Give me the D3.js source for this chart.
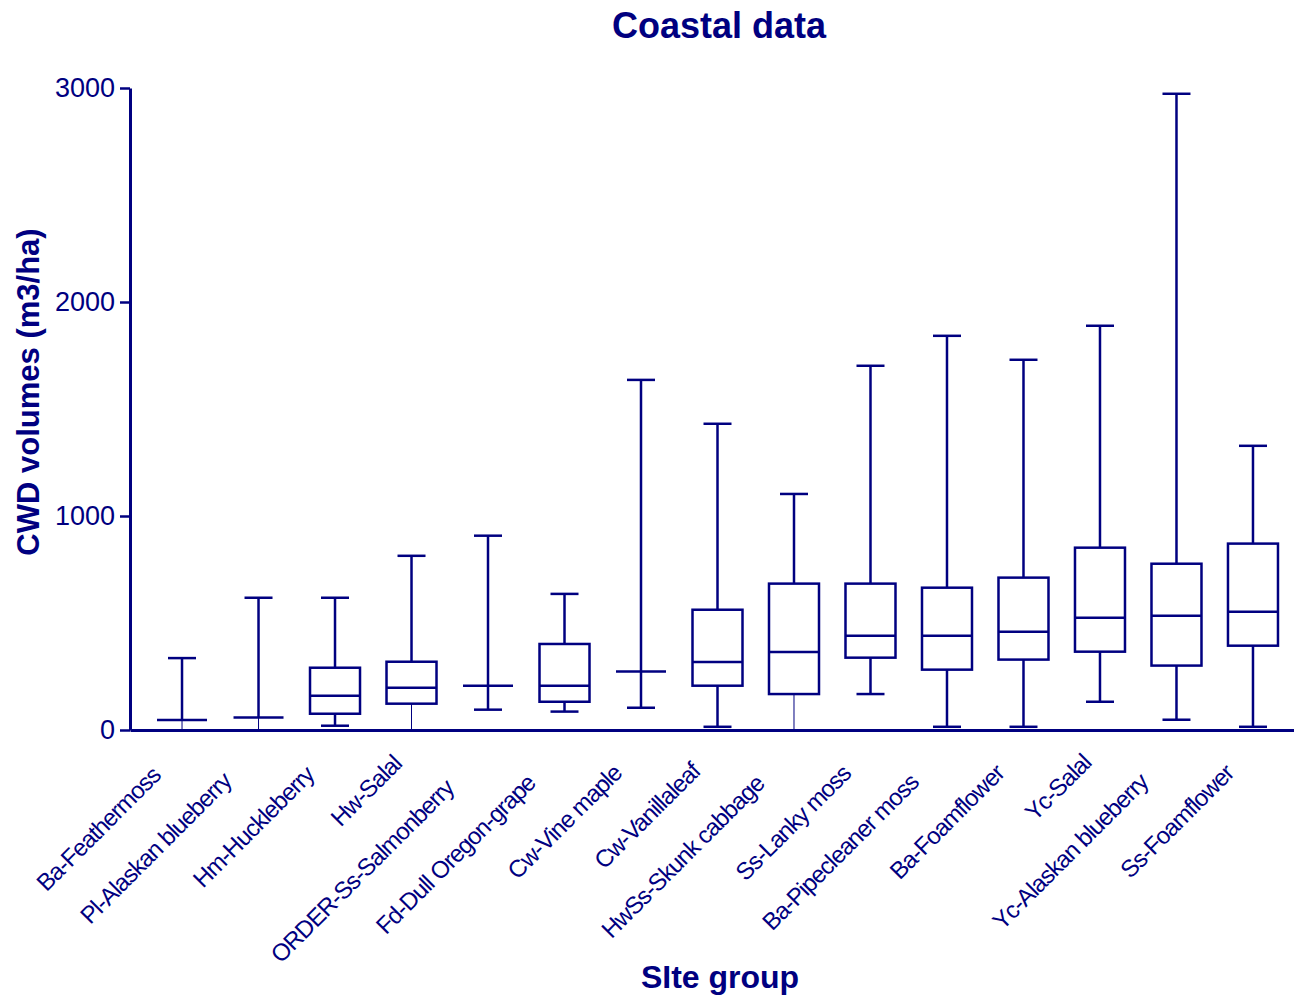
<!DOCTYPE html>
<html>
<head>
<meta charset="utf-8">
<script src="https://cdn.jsdelivr.net/npm/d3@7"></script>
<style>
  html, body { margin: 0; padding: 0; background: #fff; }
  svg text { font-family: "Liberation Sans", Arial, sans-serif; fill: #000080; }
</style>
</head>
<body>
<svg id="chart" width="1294" height="997"></svg>
<script>
// Site groups and their box-plot summaries (CWD volume, m3/ha)
const siteGroups = [
  "Ba-Feathermoss", "Pl-Alaskan blueberry", "Hm-Huckleberry", "Hw-Salal",
  "ORDER-Ss-Salmonberry", "Fd-Dull Oregon-grape", "Cw-Vine maple", "Cw-Vanillaleaf",
  "HwSs-Skunk cabbage", "Ss-Lanky moss", "Ba-Pipecleaner moss", "Ba-Foamflower",
  "Yc-Salal", "Yc-Alaskan blueberry", "Ss-Foamflower"
];
const whiskerLow  = [0,   0,   20,  0,   95,  86,  104,  15,   0,    168,  15,   15,   132,  48,   15];
const quartile1   = [47,  58,  76,  123, 207, 132, 273,  207,  168,  338,  282,  329,  366,  301,  394];
const medians     = [47,  58,  160, 198, 207, 207, 273,  318,  364,  441,  441,  459,  525,  534,  553];
const quartile3   = [47,  58,  291, 319, 207, 402, 273,  562,  684,  684,  665,  712,  852,  777,  871];
const whiskerHigh = [336, 618, 618, 814, 908, 636, 1636, 1431, 1103, 1702, 1842, 1730, 1889, 2973, 1328];
const yTicks = [0, 1000, 2000, 3000];

const ink = "#000080";
const W = 1294, H = 997;
const svg = d3.select("#chart");
svg.append("rect").attr("width", W).attr("height", H).attr("fill", "#fff");

const x = d3.scalePoint().domain(siteGroups).range([130, 1305]).padding(0.68);
const y = d3.scaleLinear().domain([0, 3000]).range([730, 88]);

const rows = siteGroups.map((g, i) => ({
  g, lo: whiskerLow[i], q1: quartile1[i], med: medians[i], q3: quartile3[i], hi: whiskerHigh[i]
}));

const boxW = 50, capW = 28, lw = 2.5;
const plot = svg.append("g").attr("class", "boxes");

rows.forEach(d => {
  const cx = x(d.g);
  const g = plot.append("g");
  const seg = (x1, y1, x2, y2, w) => g.append("line")
    .attr("x1", x1).attr("y1", y1).attr("x2", x2).attr("y2", y2)
    .attr("stroke", ink).attr("stroke-width", w);

  // upper whisker and cap
  seg(cx, y(d.q3), cx, y(d.hi), lw);
  seg(cx - capW / 2, y(d.hi), cx + capW / 2, y(d.hi), lw);

  // lower whisker; one that runs down to the baseline is drawn hairline with no cap
  const onAxis = d.lo === 0;
  seg(cx, y(d.q1), cx, y(d.lo), onAxis ? 1 : lw);
  if (!onAxis) seg(cx - capW / 2, y(d.lo), cx + capW / 2, y(d.lo), lw);

  // box and median
  g.append("rect")
    .attr("x", cx - boxW / 2).attr("y", y(d.q3))
    .attr("width", boxW).attr("height", Math.max(0, y(d.q1) - y(d.q3)))
    .attr("fill", "none").attr("stroke", ink).attr("stroke-width", lw);
  seg(cx - boxW / 2, y(d.med), cx + boxW / 2, y(d.med), lw);
});

// Y axis
const yAxis = svg.append("g")
  .attr("transform", "translate(130,0)")
  .call(d3.axisLeft(y).tickValues(yTicks).tickFormat(d3.format("d"))
    .tickSize(10).tickSizeOuter(0).tickPadding(5));
yAxis.select(".domain").attr("stroke", ink).attr("stroke-width", 3);
yAxis.selectAll(".tick line").attr("stroke", ink).attr("stroke-width", 2.5);
yAxis.selectAll(".tick text")
  .style("font-family", '"Liberation Sans", Arial, sans-serif')
  .style("font-size", "27px").attr("fill", ink);

// X axis baseline
const xAxis = svg.append("g")
  .attr("transform", `translate(0,${y(0)})`)
  .call(d3.axisBottom(x).tickSize(0).tickFormat(""));
xAxis.select(".domain").attr("stroke", ink).attr("stroke-width", 3);

// Rotated category labels
const labels = svg.append("g").attr("class", "xlabels");
siteGroups.forEach(name => {
  const t = labels.append("text")
    .attr("text-anchor", "end")
    .style("font-size", "24px")
    .style("letter-spacing", "-1px")
    .text(name);
  const len = t.node().getComputedTextLength();
  const ex = x(name) + 5 - 0.153 * len;
  const ey = 752 + 0.153 * len;
  t.attr("transform", `translate(${ex},${ey}) rotate(-45)`);
});

// Titles
svg.append("text")
  .attr("x", 719).attr("y", 38)
  .attr("text-anchor", "middle")
  .style("font-size", "36px").style("font-weight", "bold")
  .text("Coastal data");

svg.append("text")
  .attr("transform", "translate(39,392) rotate(-90)")
  .attr("text-anchor", "middle")
  .style("font-size", "31px").style("font-weight", "bold")
  .text("CWD volumes (m3/ha)");

svg.append("text")
  .attr("x", 720).attr("y", 988)
  .attr("text-anchor", "middle")
  .style("font-size", "32px").style("font-weight", "bold")
  .text("SIte group");
</script>
</body>
</html>
